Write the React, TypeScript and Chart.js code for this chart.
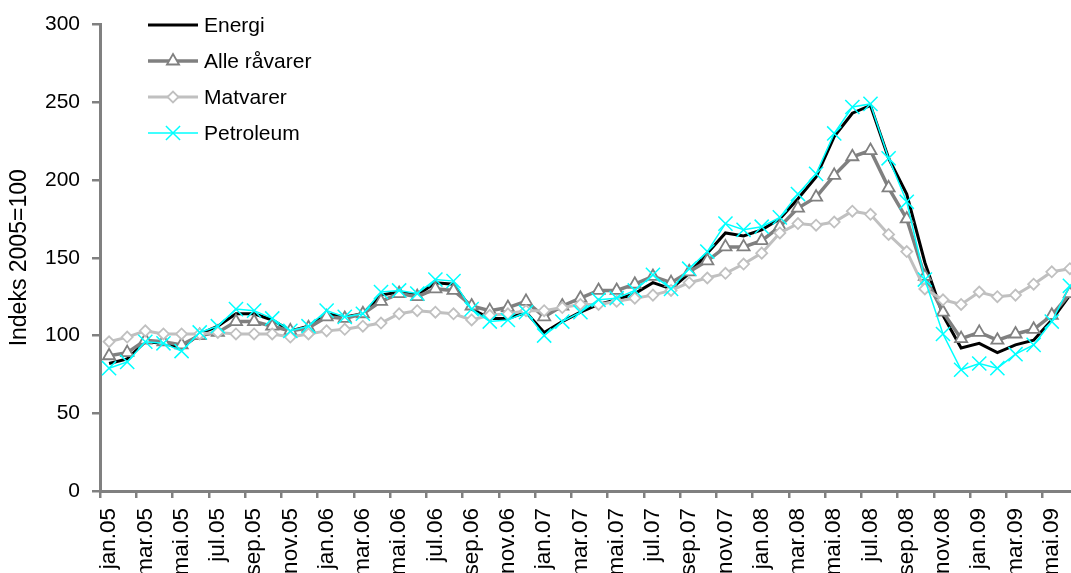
import React, { useEffect, useRef } from 'react';
import { Chart, registerables } from 'chart.js';
import { drawPoint } from 'chart.js/helpers';

Chart.register(...registerables);

const categories = [
  'jan.05', 'feb.05', 'mar.05', 'apr.05', 'mai.05', 'jun.05', 'jul.05', 'aug.05', 'sep.05', 'okt.05', 'nov.05', 'des.05',
  'jan.06', 'feb.06', 'mar.06', 'apr.06', 'mai.06', 'jun.06', 'jul.06', 'aug.06', 'sep.06', 'okt.06', 'nov.06', 'des.06',
  'jan.07', 'feb.07', 'mar.07', 'apr.07', 'mai.07', 'jun.07', 'jul.07', 'aug.07', 'sep.07', 'okt.07', 'nov.07', 'des.07',
  'jan.08', 'feb.08', 'mar.08', 'apr.08', 'mai.08', 'jun.08', 'jul.08', 'aug.08', 'sep.08', 'okt.08', 'nov.08', 'des.08',
  'jan.09', 'feb.09', 'mar.09', 'apr.09', 'mai.09', 'jun.09',
];

const energi = [
  82, 85, 96, 95, 92, 101, 106, 114, 114, 110, 103, 106,
  114, 112, 114, 126, 128, 126, 134, 133, 117, 111, 111, 115,
  102, 109, 115, 120, 123, 127, 134, 130, 140, 153, 166, 164,
  168, 175, 188, 202, 228, 243, 248, 214, 191, 147, 113, 92,
  95, 89, 94, 97, 110, 126,
];

const alleRavarer = [
  87, 89, 97, 96, 94, 100, 102, 109, 109, 106, 103, 105,
  112, 111, 114, 122, 127, 125, 130, 129, 119, 116, 118, 122,
  112, 119, 124, 129, 129, 133, 138, 134, 141, 148, 157, 157,
  161, 170, 182, 189, 203, 215, 219, 195, 175, 138, 115, 98,
  102, 97, 101, 104, 113, 127,
];

const matvarer = [
  96, 99, 103, 101, 101, 101, 102, 101, 101, 101, 99, 101,
  103, 104, 106, 108, 114, 116, 115, 114, 110, 113, 114, 116,
  116, 118, 120, 120, 122, 124, 126, 129, 134, 137, 140, 146,
  153, 166, 172, 171, 173, 180, 178, 165, 154, 130, 123, 120,
  128, 125, 126, 133, 141, 143,
];

const petroleum = [
  79, 83, 96, 95, 90, 102, 106, 117, 116, 111, 103, 106,
  116, 112, 114, 128, 129, 127, 136, 135, 117, 109, 110, 115,
  100, 109, 115, 123, 124, 129, 139, 130, 143, 154, 172, 168,
  170, 176, 191, 204, 230, 247, 249, 214, 186, 136, 101, 78,
  82, 79, 88, 94, 109, 132,
];

const yTicks = { min: 0, max: 300, step: 50 };
const yTitle = 'Indeks 2005=100';

const FONT = "'Liberation Sans', Arial, sans-serif";
const AXIS_GRAY = '#808080';

const legendPlugin = {
  id: 'customLegend',
  afterDraw(chart: any) {
    const ctx = chart.ctx;
    const rows = [25, 61, 97, 133];
    chart.data.datasets.forEach((ds: any, i: number) => {
      const y = rows[i];
      ctx.save();
      ctx.strokeStyle = ds.borderColor;
      ctx.lineWidth = ds.borderWidth;
      ctx.beginPath();
      ctx.moveTo(148, y);
      ctx.lineTo(198, y);
      ctx.stroke();
      if (ds.pointRadius > 0) {
        ctx.fillStyle = ds.pointBackgroundColor;
        ctx.strokeStyle = ds.pointBorderColor;
        ctx.lineWidth = ds.pointBorderWidth;
        drawPoint(ctx, {
          pointStyle: ds.pointStyle,
          rotation: 0,
          radius: ds.pointRadius,
          borderWidth: ds.pointBorderWidth,
        }, 173, y);
      }
      ctx.fillStyle = '#000';
      ctx.font = `21px ${FONT}`;
      ctx.textBaseline = 'middle';
      ctx.textAlign = 'left';
      ctx.fillText(ds.label, 204, y + 1);
      ctx.restore();
    });
  },
};

export default function App() {
  const ref = useRef<HTMLCanvasElement>(null);

  useEffect(() => {
    if (!ref.current) return;
    const chart = new Chart(ref.current, {
      type: 'line',
      data: {
        labels: categories,
        datasets: [
          {
            label: 'Energi',
            data: energi,
            borderColor: '#000000',
            backgroundColor: '#000000',
            borderWidth: 3,
            pointRadius: 0,
            pointStyle: 'circle',
            tension: 0,
            order: 4,
          },
          {
            label: 'Alle råvarer',
            data: alleRavarer,
            borderColor: '#808080',
            backgroundColor: '#808080',
            borderWidth: 3.5,
            pointStyle: 'triangle',
            pointRadius: 7,
            pointBackgroundColor: '#ffffff',
            pointBorderColor: '#808080',
            pointBorderWidth: 1.8,
            tension: 0,
            order: 3,
          },
          {
            label: 'Matvarer',
            data: matvarer,
            borderColor: '#C0C0C0',
            backgroundColor: '#C0C0C0',
            borderWidth: 3,
            pointStyle: 'rectRot',
            pointRadius: 5.5,
            pointBackgroundColor: '#ffffff',
            pointBorderColor: '#C0C0C0',
            pointBorderWidth: 1.8,
            tension: 0,
            order: 2,
          },
          {
            label: 'Petroleum',
            data: petroleum,
            borderColor: '#00FFFF',
            backgroundColor: '#00FFFF',
            borderWidth: 1.5,
            pointStyle: 'crossRot',
            pointRadius: 10,
            pointBackgroundColor: '#00FFFF',
            pointBorderColor: '#00FFFF',
            pointBorderWidth: 1.5,
            tension: 0,
            order: 1,
          },
        ],
      },
      options: {
        responsive: false,
        animation: false,
        events: [],
        layout: { padding: { top: 24, right: 0, bottom: 0, left: 0 } },
        plugins: {
          legend: { display: false },
          tooltip: { enabled: false },
        },
        scales: {
          x: {
            type: 'category',
            offset: true,
            grid: {
              offset: true,
              drawOnChartArea: false,
              tickLength: 7,
              lineWidth: 2.5,
              color: AXIS_GRAY,
              tickColor: (c: any) => (c.index % 2 === 0 ? AXIS_GRAY : 'rgba(0,0,0,0)'),
            },
            border: { display: true, color: AXIS_GRAY, width: 3 },
            ticks: {
              autoSkip: false,
              maxRotation: 90,
              minRotation: 90,
              padding: 10,
              color: '#000',
              font: { family: FONT, size: 22.5 },
              callback: (_v: any, i: number) => (i % 2 === 0 ? categories[i] : ''),
            },
            afterFit: (scale: any) => {
              scale.height = 600 - 491;
            },
          },
          y: {
            min: yTicks.min,
            max: yTicks.max,
            grid: {
              drawOnChartArea: false,
              tickLength: 8,
              lineWidth: 2.5,
              color: AXIS_GRAY,
            },
            border: { display: true, color: AXIS_GRAY, width: 3 },
            ticks: {
              stepSize: yTicks.step,
              padding: 12,
              color: '#000',
              font: { family: FONT, size: 21 },
            },
            title: {
              display: true,
              text: yTitle,
              color: '#000',
              font: { family: FONT, size: 23 },
              padding: { top: 6, bottom: 0 },
            },
            afterFit: (scale: any) => {
              scale.width = 100;
            },
          },
        },
      },
      plugins: [legendPlugin],
    });
    return () => chart.destroy();
  }, []);

  return (
    <div
      style={{
        position: 'fixed',
        left: 0,
        top: 0,
        width: 1071,
        height: 573,
        overflow: 'hidden',
        background: '#ffffff',
      }}
    >
      <canvas ref={ref} width={1107} height={600} style={{ display: 'block' }} />
    </div>
  );
}
